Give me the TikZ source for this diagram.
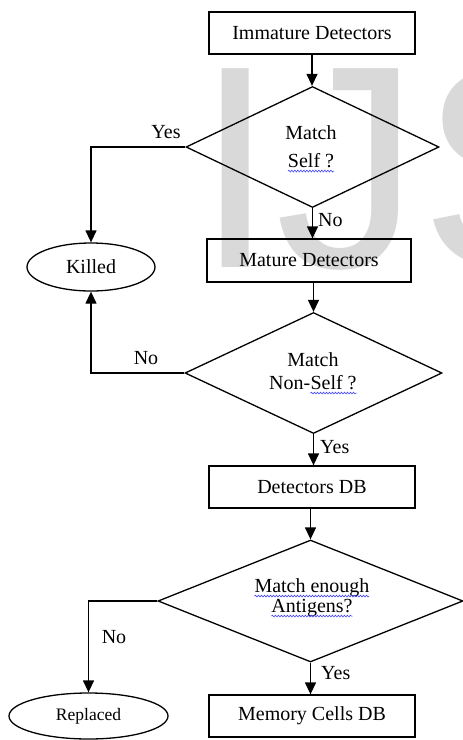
\documentclass[tikz,border=0pt]{standalone}
\usepackage{fontspec}
\setmainfont{Liberation Serif}
\newfontfamily\wmfont{Liberation Sans}
\usetikzlibrary{shapes.geometric,arrows.meta,decorations.pathmorphing}

% wavy blue underline under a word
\newcommand\wavy[1]{\tikz[baseline=(w.base)]{%
  \node[inner sep=0pt, outer sep=0pt, draw=none, shape=rectangle] (w) {#1};%
  \draw[squiggle] ([yshift=-3.5pt]w.base west) -- ([yshift=-3.5pt]w.base east);}}

\tikzset{
  box/.style={draw, line width=1.3pt, minimum width=206pt, minimum height=42pt,
    inner sep=0pt, font=\fontsize{20}{24}\selectfont},
  decision/.style={draw, diamond, line width=1.3pt, inner sep=0pt},
  terminal/.style={draw, ellipse, line width=1.3pt, inner sep=0pt},
  flow/.style={line width=1.3pt, -{Triangle[length=12pt,width=11pt]}},
  lbl/.style={inner sep=0pt, font=\fontsize{20}{24}\selectfont},
  squiggle/.style={blue!75!white, line width=0.6pt, decorate,
    decoration={snake, amplitude=0.9pt, segment length=3pt}},
}

\begin{document}
\begin{tikzpicture}[x=1pt, y=-1pt]
\useasboundingbox (0,0) rectangle (463,740);

% background lettering
\begin{scope}
  \clip (0,0) rectangle (463,740);
  \node[anchor=base west, inner sep=0pt, text=gray!30,
        font=\wmfont\fontsize{289}{289}\selectfont] (wm) at (195,267) {IJS};
\end{scope}

% process boxes
\node[box] (imm) at (312,33) {Immature Detectors};
\node[box, minimum width=204pt, minimum height=43pt] (mat) at (309,260.5) {Mature Detectors};
\node[box] (ddb) at (312,487) {Detectors DB};
\node[box] (mem) at (312,716) {Memory Cells DB};

% decisions
\node[decision, minimum width=253pt, minimum height=121pt] (d1) at (312.5,147) {};
\node[decision, minimum width=257pt, minimum height=121pt] (d2) at (313.5,373) {};
\node[decision, minimum width=305pt, minimum height=122pt] (d3) at (310.5,601) {};

\node[lbl, align=center, font=\fontsize{20}{28}\selectfont] (d1t) at (311,149)
  {Match\\\wavy{Self ?}};
\node[lbl, align=center, font=\fontsize{20}{23}\selectfont] (d2t) at (313,373.5)
  {Match\\Non-\wavy{Self ?}};
\node[lbl, align=center, font=\fontsize{20}{20}\selectfont] (d3t) at (312,598)
  {\wavy{Match enough}\\\wavy{Antigens?}};

% end states
\node[terminal, minimum width=128pt, minimum height=48pt, font=\fontsize{20}{24}\selectfont]
  (killed) at (91,267) {Killed};
\node[terminal, minimum width=159pt, minimum height=46pt, font=\fontsize{17.5}{21}\selectfont]
  (rep) at (88.5,716) {Replaced};

% branch labels
\node[lbl] (yes1) at (166,132) {Yes};
\node[lbl, anchor=west] (no1) at (318,220) {No};
\node[lbl] (no2) at (146,358) {No};
\node[lbl, anchor=west] (yes2) at (320,447) {Yes};
\node[lbl] (no3) at (114,637) {No};
\node[lbl, anchor=west] (yes3) at (321,673) {Yes};

% connectors
\draw[flow] (imm.south) -- (imm.south |- d1.north);
\draw[flow] (d1.west) -| (killed.north);
\draw[flow] (d1.south) -- (d1.south |- mat.north);
\draw[flow] (d2.north |- mat.south) -- (d2.north);
\draw[flow] (d2.west) -| (killed.south);
\draw[flow] (d2.south) -- (d2.south |- ddb.north);
\draw[flow] (d3.north |- ddb.south) -- (d3.north);
\draw[flow] (d3.west) -| (rep.north);
\draw[flow] (d3.south) -- (d3.south |- mem.north);
\end{tikzpicture}
\end{document}
